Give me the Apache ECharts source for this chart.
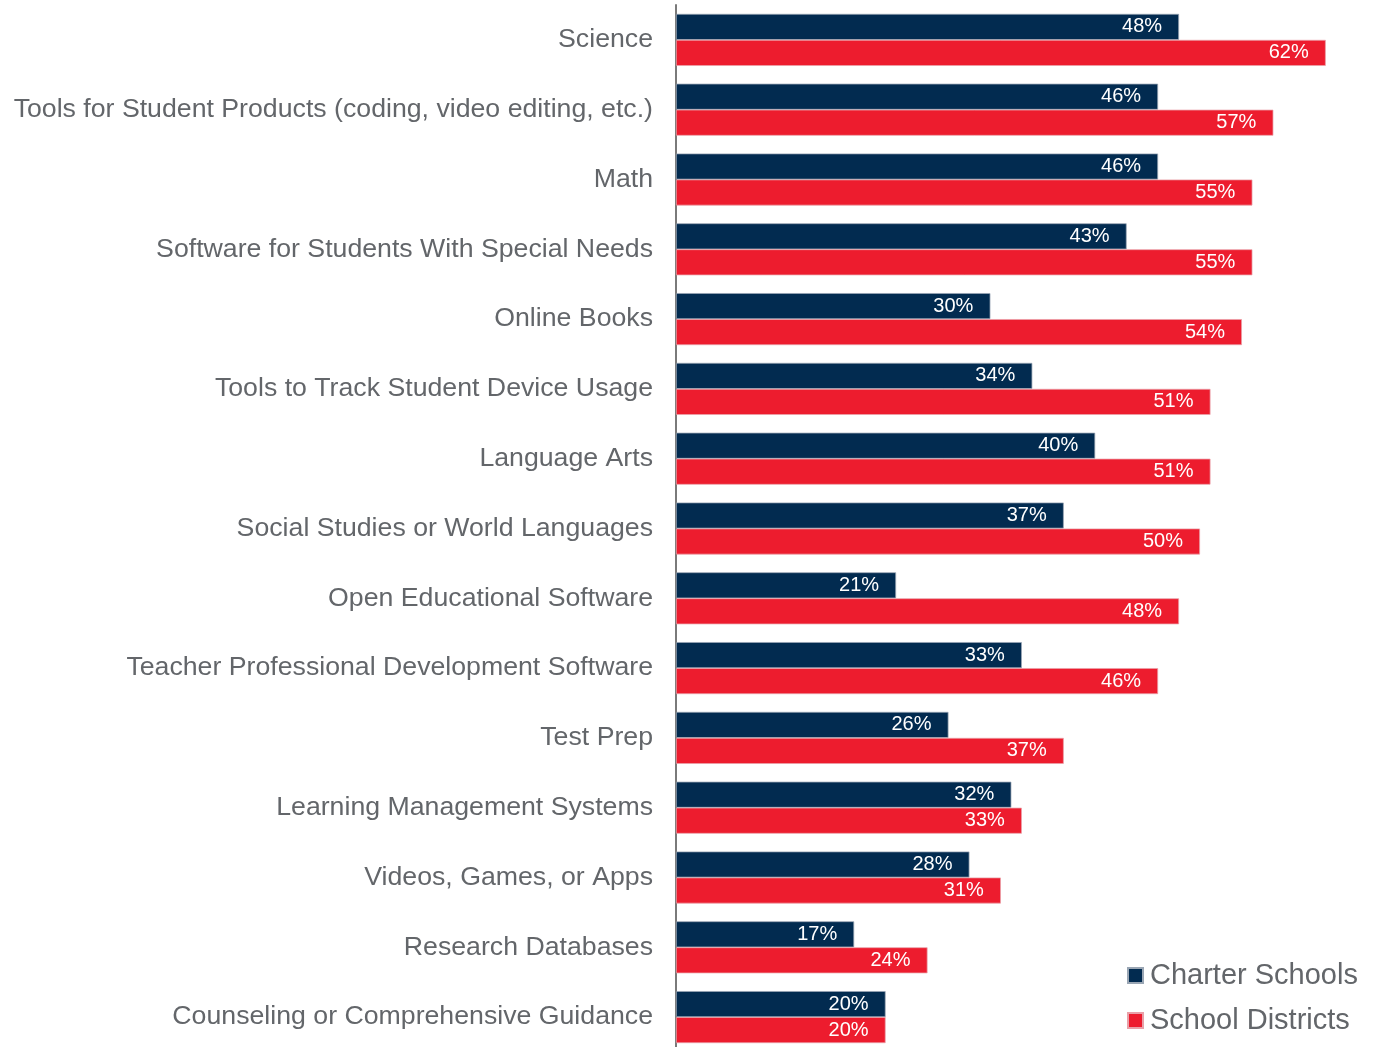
<!DOCTYPE html>
<html>
<head>
<meta charset="utf-8">
<script src="https://cdn.jsdelivr.net/npm/echarts@6/dist/echarts.min.js"></script>
<style>
  html, body { margin: 0; padding: 0; background: #fff; }
  #chart { width: 1377px; height: 1047px; }
</style>
</head>
<body>
<div id="chart"></div>
<script>
const categories = [
  'Science',
  'Tools for Student Products (coding, video editing, etc.)',
  'Math',
  'Software for Students With Special Needs',
  'Online Books',
  'Tools to Track Student Device Usage',
  'Language Arts',
  'Social Studies or World Languages',
  'Open Educational Software',
  'Teacher Professional Development Software',
  'Test Prep',
  'Learning Management Systems',
  'Videos, Games, or Apps',
  'Research Databases',
  'Counseling or Comprehensive Guidance'
]
const charterSchools = [48, 46, 46, 43, 30, 34, 40, 37, 21, 33, 26, 32, 28, 17, 20]
const schoolDistricts = [62, 57, 55, 55, 54, 51, 51, 50, 48, 46, 37, 33, 31, 24, 20]

const chart = echarts.init(document.getElementById('chart'))

const barLabel = {
  show: true,
  position: 'insideRight',
  distance: 17,
  color: '#fff',
  fontSize: 20,
  fontFamily: 'Liberation Sans, Arial, sans-serif',
  formatter: '{c}%'
}

chart.setOption({
  animation: false,
  grid: {
    left: 676,
    top: 5,
    width: 681.2,
    height: 1047,
    outerBoundsMode: 'none'
  },
  xAxis: {
    type: 'value',
    min: 0,
    max: 65,
    show: false
  },
  yAxis: {
    type: 'category',
    data: categories,
    inverse: true,
    axisLine: { show: true, lineStyle: { color: '#7a7a7a', width: 2 } },
    axisTick: { show: false },
    axisLabel: {
      margin: 23,
      color: '#63666a',
      fontSize: 26.7,
      fontFamily: 'Liberation Sans, Arial, sans-serif'
    }
  },
  legend: {
    orient: 'vertical',
    left: 1122,
    top: 956,
    itemWidth: 15,
    itemHeight: 15,
    itemGap: 16,
    icon: 'rect',
    textStyle: {
      color: '#63666a',
      fontSize: 29,
      fontFamily: 'Liberation Sans, Arial, sans-serif',
      padding: [0, 0, 0, 2]
    },
    data: ['Charter Schools', 'School Districts']
  },
  series: [
    {
      name: 'Charter Schools',
      type: 'bar',
      data: charterSchools,
      barWidth: 26,
      barGap: '0%',
      itemStyle: { color: '#022b50', borderColor: '#9aa6b4', borderWidth: 0.75 },
      label: barLabel
    },
    {
      name: 'School Districts',
      type: 'bar',
      data: schoolDistricts,
      barWidth: 26,
      barGap: '0%',
      itemStyle: { color: '#ed1c2e', borderColor: '#e9a0a8', borderWidth: 0.75 },
      label: barLabel
    }
  ]
})
</script>
</body>
</html>
